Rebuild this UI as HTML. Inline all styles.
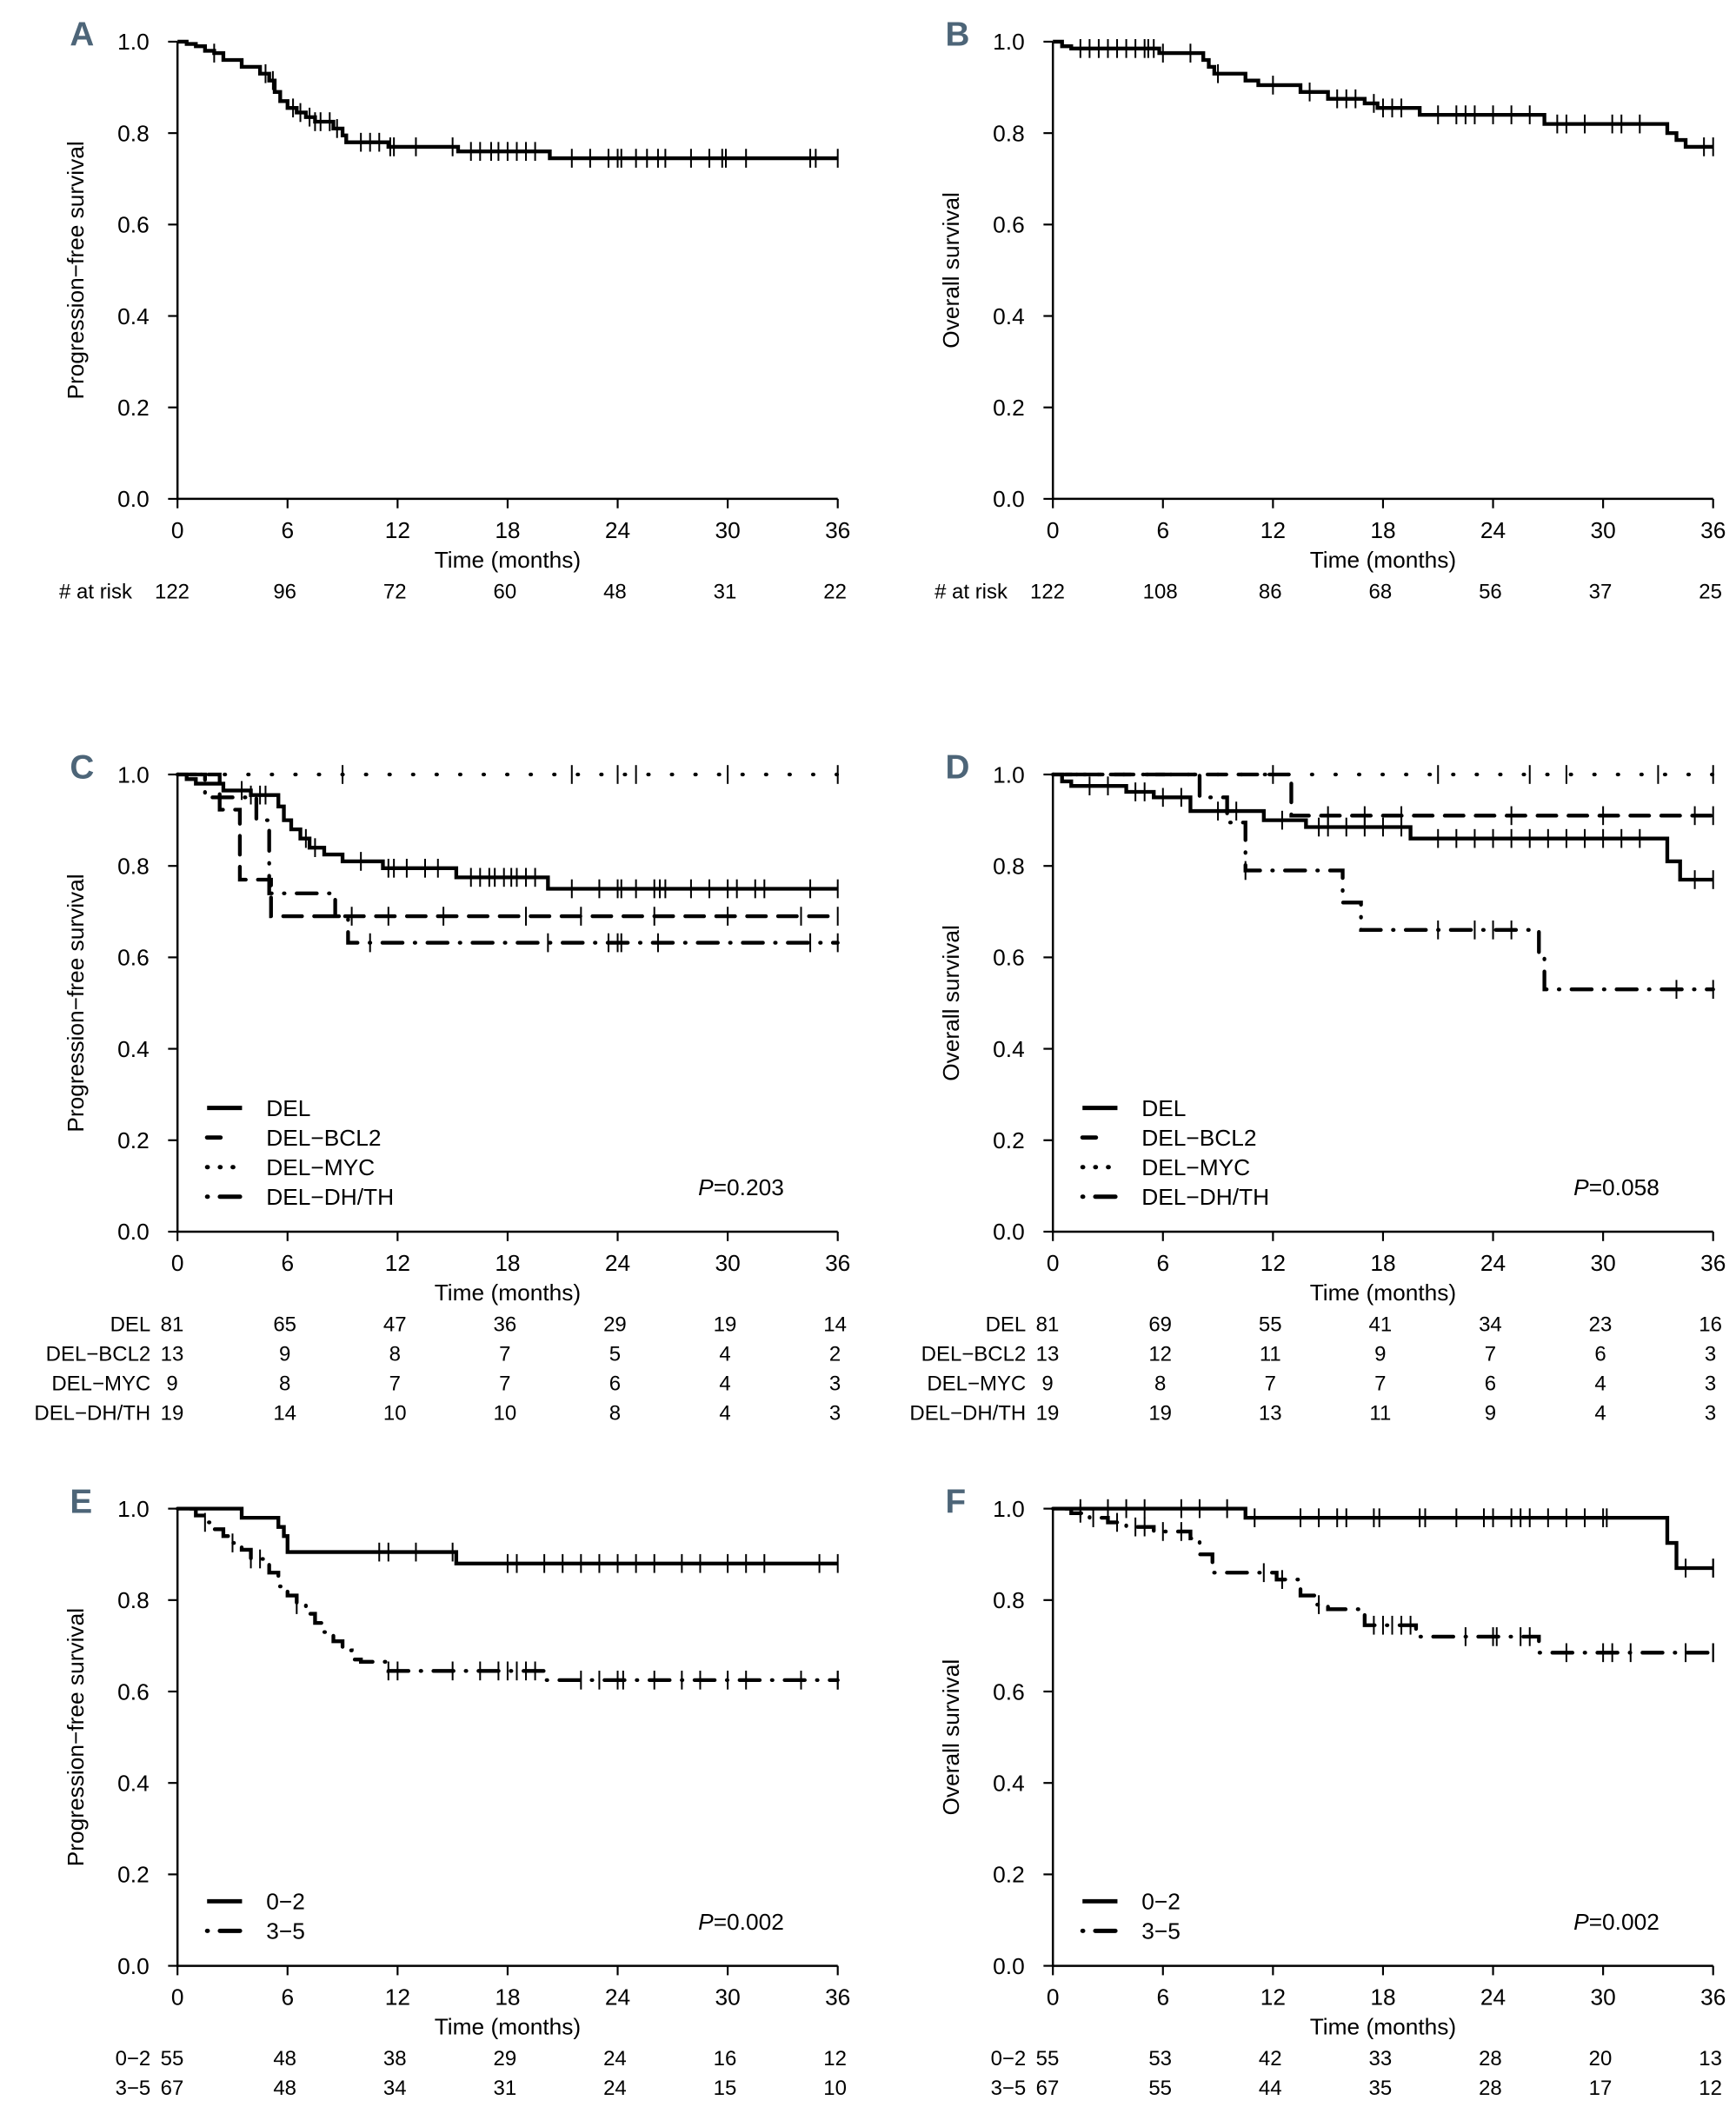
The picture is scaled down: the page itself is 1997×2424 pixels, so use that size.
<!DOCTYPE html>
<html><head><meta charset="utf-8"><style>
html,body{margin:0;padding:0;background:#fff;}
svg{display:block;font-family:"Liberation Sans",sans-serif;}
</style></head><body>
<svg id="fig" width="1997" height="2424" viewBox="0 0 1291 1567" preserveAspectRatio="none" xmlns="http://www.w3.org/2000/svg"></svg>
<script>
// ---- Data ----
const xTicks = [0,6,12,18,24,30,36];
const yTicks = [0,0.2,0.4,0.6,0.8,1.0];

const aPFS = [[0,1],[0.5,0.995],[1,0.99],[1.5,0.98],[2,0.975],[2.5,0.96],[3.5,0.945],[4.5,0.93],[5,0.915],[5.3,0.89],[5.6,0.87],[6,0.855],[6.5,0.845],[7,0.835],[7.5,0.825],[8.5,0.81],[9,0.795],[9.2,0.78],[11.5,0.77],[15.3,0.76],[20.3,0.745]];
const aPFSCens = [2,4.8,5.2,6.3,6.7,7.2,7.5,7.8,8.3,8.7,10,10.5,11,11.6,11.8,13,15,16,16.5,17.1,17.5,18,18.5,19,19.5,21.5,22.5,23.5,24,24.2,25,25.6,26.2,26.6,28,29,29.7,29.9,31,34.5,34.8];
const aRisk = [122,96,72,60,48,31,22];

const bOS = [[0,1],[0.5,0.99],[1,0.985],[5.8,0.975],[8.2,0.96],[8.5,0.945],[8.8,0.93],[10.5,0.915],[11.2,0.905],[13.5,0.89],[15,0.875],[17,0.865],[17.7,0.855],[20,0.84],[26.8,0.82],[33.5,0.8],[34,0.785],[34.5,0.77]];
const bOSCens = [1.5,2,2.5,3,3.5,4,4.5,5,5.2,5.5,6,7.5,9,12,14,15.5,16,16.5,17.5,18,18.5,19,21,22,22.5,23,24,25,26,27.5,28,29,30.5,31,32,35.5];
const bRisk = [122,108,86,68,56,37,25];

const cDEL = [[0,1],[0.5,0.99],[1,0.98],[2.5,0.965],[4,0.955],[5.5,0.93],[5.8,0.9],[6.2,0.88],[6.7,0.86],[7.2,0.84],[8,0.825],[9,0.81],[11.2,0.795],[15.2,0.775],[20.2,0.75]];
const cDELCens = [3.5,4,4.5,4.8,7,7.5,10,11.5,11.8,12.5,13.5,14.2,16,16.5,17,17.3,17.8,18.2,18.5,19,19.5,21.5,23,24,24.2,25,26,26.3,26.6,28,29,30,30.5,31.5,32,34.5];
const cBCL2 = [[0,1],[2.3,0.923],[3.4,0.77],[5.1,0.69]];
const cBCL2Cens = [9.5,11.5,14.5,19,22,26,30,34];
const cMYC = [[0,1]];
const cMYCCens = [9,21.5,24,25,30];
const cDHTH = [[0,1],[1.5,0.95],[4.3,0.9],[5,0.74],[8.6,0.69],[9.3,0.632]];
const cDHTHCens = [10.5,20.2,23.5,24,24.2,26.2,34.5];
const cRiskDEL = [81,65,47,36,29,19,14];
const cRiskBCL2 = [13,9,8,7,5,4,2];
const cRiskMYC = [9,8,7,7,6,4,3];
const cRiskDHTH = [19,14,10,10,8,4,3];

const dDEL = [[0,1],[0.5,0.985],[1,0.975],[4,0.962],[5.5,0.95],[7.5,0.92],[11.5,0.9],[13.8,0.885],[19.5,0.86],[33.5,0.81],[34.2,0.77]];
const dDELCens = [2,3,4.5,5,6,7,9,10,12.5,14.5,15,16,17,18,19,21,22,23,24,25,26,27,28,29,30,31,32,35];
const dBCL2 = [[0,1],[13,0.91]];
const dBCL2Cens = [15,17,19,25,30,35];
const dMYC = [[0,1]];
const dMYCCens = [12,21,26,28,33];
const dDHTH = [[0,1],[8,0.95],[9.5,0.895],[10.5,0.79],[15.8,0.72],[16.8,0.66],[26.5,0.6],[26.8,0.53]];
const dDHTHCens = [10.5,21,23,24,25,34];
const dRiskDEL = [81,69,55,41,34,23,16];
const dRiskBCL2 = [13,12,11,9,7,6,3];
const dRiskMYC = [9,8,7,7,6,4,3];
const dRiskDHTH = [19,19,13,11,9,4,3];

const eLow = [[0,1],[3.5,0.98],[5.5,0.96],[5.8,0.94],[6,0.905],[15.2,0.88]];
const eLowCens = [11,11.5,13,15,18,18.5,20,21,22,23,24,25,26,27.5,28.5,30,31,32,35];
const eHigh = [[0,1],[1,0.985],[1.5,0.97],[2,0.955],[2.5,0.94],[3,0.925],[3.5,0.91],[4,0.89],[5,0.86],[5.5,0.83],[6,0.81],[6.5,0.79],[7,0.77],[7.5,0.75],[8,0.73],[8.5,0.71],[9,0.69],[9.5,0.67],[10,0.665],[11.5,0.645],[15.5,0.645],[20,0.625]];
const eHighCens = [1.5,3,4,4.5,6.5,11.5,12,15,16.5,17.5,18,18.5,19,19.5,22,23,24,24.3,26,27.5,28.5,30,31,34,36];
const eRiskLow = [55,48,38,29,24,16,12];
const eRiskHigh = [67,48,34,31,24,15,10];

const fLow = [[0,1],[10.5,0.98],[33.5,0.925],[34,0.87]];
const fLowCens = [1.5,3,4,5,7,8,9.5,11,13.5,14.5,15.5,16,17.5,17.8,20,20.3,22,23.5,24,25,25.5,26,27,28,29,30,30.2,34.5,36];
const fHigh = [[0,1],[1,0.99],[2,0.98],[3,0.97],[4,0.96],[5.5,0.95],[7.5,0.935],[8,0.9],[8.7,0.86],[12.2,0.845],[13.5,0.81],[14.3,0.79],[15,0.78],[17,0.745],[19.8,0.72],[26.5,0.685]];
const fHighCens = [1.5,2.2,3.5,4.5,5,6,7,11.5,12.5,14.5,17.5,18,18.5,19,19.5,22.5,24,24.2,25.5,26,28,30,30.5,31.5,34.5,36];
const fRiskLow = [55,53,42,33,28,20,13];
const fRiskHigh = [67,55,44,35,28,17,12];

// ---- Drawing ----
const NS = "http://www.w3.org/2000/svg";
const svg = document.getElementById('fig');
function el(tag, attrs, parent){
  const e = document.createElementNS(NS, tag);
  for (const k in attrs) e.setAttribute(k, attrs[k]);
  (parent||svg).appendChild(e);
  return e;
}
const DASH = {solid:"", dash:"14,9", dot:"0.5,17", dashdot:"0.5,9,15,9"};

function panel(cfg){
  const g = el('g', {});
  
  
  const X0 = cfg.x, X1 = cfg.x + 491, Y0 = cfg.y + 340, Y1 = cfg.y;
  const sx = t => X0 + (X1 - X0) * t / 36;
  const sy = v => Y0 - (Y0 - Y1) * v;
  const L = el('text', {x: cfg.x - 80, y: cfg.y + 3, 'font-size': 25, 'font-weight': 'bold', fill: '#4d6578', 'font-family': '"Liberation Sans Narrow","Liberation Sans",sans-serif'}, g);
  L.textContent = cfg.letter;
  
  
  const ax = el('path', {d: `M${X0},${Y1}V${Y0}H${X1}`, stroke: '#000', 'stroke-width': 1.6, fill: 'none'}, g);
  
  
  yTicks.forEach(v => {
    el('line', {x1: X0 - 7, x2: X0, y1: sy(v), y2: sy(v), stroke: '#000', 'stroke-width': 1.4}, g);
    const t = el('text', {x: X0 - 21, y: sy(v) + 6, 'font-size': 17, 'text-anchor': 'end'}, g);
    t.textContent = v.toFixed(1);
    
    
  });
  xTicks.forEach(v => {
    el('line', {x1: sx(v), x2: sx(v), y1: Y0, y2: Y0 + 7, stroke: '#000', 'stroke-width': 1.4}, g);
    const t = el('text', {x: sx(v), y: Y0 + 29, 'font-size': 17, 'text-anchor': 'middle'}, g);
    t.textContent = v;
    
    
  });
  const xt = el('text', {x: (X0 + X1) / 2, y: Y0 + 51, 'font-size': 17, 'text-anchor': 'middle'}, g);
  xt.textContent = 'Time (months)';
  
  
  const yt = el('text', {x: 0, y: 0, 'font-size': 17, 'text-anchor': 'middle', transform: `translate(${X0 - 70},${(Y0 + Y1) / 2}) rotate(-90)`}, g);
  yt.textContent = cfg.ytitle;
  
  
  cfg.series.forEach(s => {
    let d = `M${sx(s.pts[0][0])},${sy(s.pts[0][1])}`;
    for (let i = 1; i < s.pts.length; i++) d += `H${sx(s.pts[i][0])}V${sy(s.pts[i][1])}`;
    d += `H${sx(36)}`;
    const p = el('path', {d, fill: 'none', stroke: '#000', 'stroke-width': 2.8, 'stroke-dasharray': DASH[s.style], 'stroke-linecap': s.style === 'solid' ? 'butt' : 'round'}, g);
    
    
    const survAt = t => { let v = s.pts[0][1]; s.pts.forEach(q => { if (q[0] <= t) v = q[1]; }); return v; };
    s.cens.concat([36]).forEach(t => {
      const y = sy(survAt(t));
      const c = el('line', {x1: sx(t), x2: sx(t), y1: y - 7, y2: y + 7, stroke: '#000', 'stroke-width': 1.3}, g);
      
      
    });
  });
  if (cfg.legend) {
    cfg.series.forEach((s, i) => {
      const yy = cfg.series.length === 2 ? Y0 - 48 + i * 22 : Y0 - 92 + i * 22;
      const ln = el('line', {x1: X0 + 22, x2: X0 + 48, y1: yy, y2: yy, stroke: '#000', 'stroke-width': 3.2, 'stroke-dasharray': DASH[s.style] ? (s.style==='dot'?'0.5,9':s.style==='dashdot'?'0.5,9,15,9':'10,16') : '', 'stroke-linecap': s.style === 'solid' ? 'butt' : 'round'}, g);
      
      
      const lt = el('text', {x: X0 + 66, y: yy + 6, 'font-size': 17}, g);
      lt.textContent = s.label;
      
      
    });
  }
  if (cfg.p) {
    const pt = el('text', {x: X0 + 451, y: Y0 - 27, 'font-size': 17, 'text-anchor': 'end'}, g);
    pt.innerHTML = '<tspan font-style="italic">P</tspan>=' + cfg.p;
    
    
  }
  cfg.risk.forEach((r, i) => {
    const ry = Y0 + 74 + i * 22;
    const lab = el('text', {x: cfg.riskLabelAnchor === 'start' ? X0 - 88 : X0 - 20, y: ry, 'font-size': 15.5, 'text-anchor': cfg.riskLabelAnchor || 'end'}, g);
    lab.textContent = r.label;
    
    
    r.vals.forEach((v, j) => {
      const t = el('text', {x: sx(xTicks[j]) + (j === 0 ? -4 : -2), y: ry, 'font-size': 15.5, 'text-anchor': 'middle'}, g);
      t.textContent = v;
      
      
    });
  });
}

panel({letter:'A', x:132, y:31, ytitle:'Progression−free survival', series:[{name:'pfs',style:'solid',pts:aPFS,cens:aPFSCens,label:''}], risk:[{label:'# at risk',vals:aRisk}], riskLabelAnchor:'start'});
panel({letter:'B', x:783, y:31, ytitle:'Overall survival', series:[{name:'os',style:'solid',pts:bOS,cens:bOSCens,label:''}], risk:[{label:'# at risk',vals:bRisk}], riskLabelAnchor:'start'});
panel({letter:'C', x:132, y:576, ytitle:'Progression−free survival', legend:true, p:'0.203',
  series:[{name:'del',style:'solid',pts:cDEL,cens:cDELCens,label:'DEL'},{name:'del-bcl2',style:'dash',pts:cBCL2,cens:cBCL2Cens,label:'DEL−BCL2'},{name:'del-myc',style:'dot',pts:cMYC,cens:cMYCCens,label:'DEL−MYC'},{name:'del-dhth',style:'dashdot',pts:cDHTH,cens:cDHTHCens,label:'DEL−DH/TH'}],
  risk:[{label:'DEL',vals:cRiskDEL},{label:'DEL−BCL2',vals:cRiskBCL2},{label:'DEL−MYC',vals:cRiskMYC},{label:'DEL−DH/TH',vals:cRiskDHTH}]});
panel({letter:'D', x:783, y:576, ytitle:'Overall survival', legend:true, p:'0.058',
  series:[{name:'del',style:'solid',pts:dDEL,cens:dDELCens,label:'DEL'},{name:'del-bcl2',style:'dash',pts:dBCL2,cens:dBCL2Cens,label:'DEL−BCL2'},{name:'del-myc',style:'dot',pts:dMYC,cens:dMYCCens,label:'DEL−MYC'},{name:'del-dhth',style:'dashdot',pts:dDHTH,cens:dDHTHCens,label:'DEL−DH/TH'}],
  risk:[{label:'DEL',vals:dRiskDEL},{label:'DEL−BCL2',vals:dRiskBCL2},{label:'DEL−MYC',vals:dRiskMYC},{label:'DEL−DH/TH',vals:dRiskDHTH}]});
panel({letter:'E', x:132, y:1122, ytitle:'Progression−free survival', legend:true, p:'0.002',
  series:[{name:'score-0-2',style:'solid',pts:eLow,cens:eLowCens,label:'0−2'},{name:'score-3-5',style:'dashdot',pts:eHigh,cens:eHighCens,label:'3−5'}],
  risk:[{label:'0−2',vals:eRiskLow},{label:'3−5',vals:eRiskHigh}]});
panel({letter:'F', x:783, y:1122, ytitle:'Overall survival', legend:true, p:'0.002',
  series:[{name:'score-0-2',style:'solid',pts:fLow,cens:fLowCens,label:'0−2'},{name:'score-3-5',style:'dashdot',pts:fHigh,cens:fHighCens,label:'3−5'}],
  risk:[{label:'0−2',vals:fRiskLow},{label:'3−5',vals:fRiskHigh}]});
</script>
</body></html>
